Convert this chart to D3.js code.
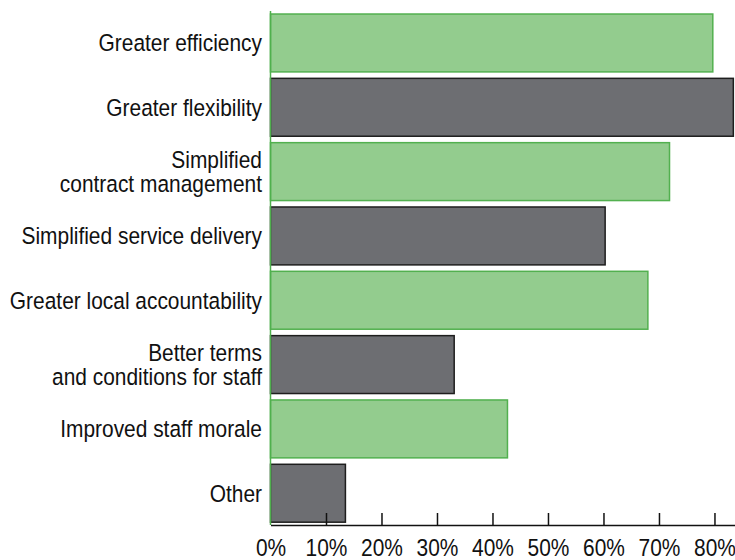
<!DOCTYPE html>
<html>
<head>
<meta charset="utf-8">
<script src="https://cdn.jsdelivr.net/npm/d3@7"></script>
<style>
  body { margin: 0; background: #fff; }
  svg text { font-family: "Liberation Sans", Arial, sans-serif; fill: #111; }
</style>
</head>
<body>
<div id="chart"></div>
<script>
// categories, top to bottom (multi-line labels split on "|")
var categories = [
    "Greater efficiency",
    "Greater flexibility",
    "Simplified|contract management",
    "Simplified service delivery",
    "Greater local accountability",
    "Better terms|and conditions for staff",
    "Improved staff morale",
    "Other"
];
// share of respondents
var values = [0.797, 0.834, 0.719, 0.603, 0.680, 0.331, 0.427, 0.135];
var tickValues = [0, 0.1, 0.2, 0.3, 0.4, 0.5, 0.6, 0.7, 0.8];

var width = 735, height = 560;
var axisY = 525;
var fontSize = "23.5px";
var narrow = "scale(0.89,1)";   // no condensed font installed, squeeze Liberation Sans

var svg = d3.select("#chart").append("svg")
    .attr("width", width)
    .attr("height", height);

var x = d3.scaleLinear()
    .domain([0, 0.837])
    .range([270.5, 735]);

var y = d3.scaleBand()
    .domain(categories)
    .range([10.8, 525.4])
    .paddingInner(0.1)
    .paddingOuter(0.05);

/* bars, alternating green / grey */
svg.selectAll(".bar")
    .data(categories)
    .enter().append("rect")
    .attr("class", "bar")
    .attr("x", x(0))
    .attr("y", function (d) { return y(d); })
    .attr("height", y.bandwidth())
    .attr("width", function (d, i) { return x(values[i]) - x(0); })
    .attr("fill", function (d, i) { return i % 2 === 0 ? "#93cc8e" : "#6d6e72"; })
    .attr("stroke", function (d, i) { return i % 2 === 0 ? "#52b04f" : "#1e1e1e"; })
    .attr("stroke-width", 1.5);

/* y axis line (green) */
svg.append("line")
    .attr("x1", x(0)).attr("x2", x(0))
    .attr("y1", 11).attr("y2", axisY)
    .attr("stroke", "#4fb04d")
    .attr("stroke-width", 1.5);

/* category labels */
var labels = svg.selectAll(".cat")
    .data(categories)
    .enter().append("g")
    .attr("class", "cat")
    .attr("transform", function (d) {
        return "translate(262," + (y(d) + y.bandwidth() / 2) + ") " + narrow;
    })
    .append("text")
    .attr("text-anchor", "end")
    .style("font-size", fontSize);

labels.each(function (d) {
    var lines = d.split("|");
    var lineH = 24;
    var t = d3.select(this);
    lines.forEach(function (ln, k) {
        t.append("tspan")
            .attr("x", 0)
            .attr("y", 8.5 + (k - (lines.length - 1) / 2) * lineH)
            .text(ln);
    });
});

/* x axis */
var xAxis = d3.axisBottom(x)
    .tickValues(tickValues)
    .tickSizeInner(-12)
    .tickSizeOuter(0)
    .tickFormat(d3.format(".0%"));

var gx = svg.append("g")
    .attr("transform", "translate(0," + axisY + ")")
    .call(xAxis);

gx.select(".domain")
    .attr("stroke", "#111")
    .attr("stroke-width", 1.5);
gx.selectAll(".tick line")
    .attr("stroke", "#111")
    .attr("stroke-width", 1.5)
    .filter(function (d) { return d === 0; }).remove();
gx.selectAll(".tick text")
    .attr("y", 31)
    .attr("dy", 0)
    .attr("transform", narrow)
    .style("font-size", fontSize)
    .style("font-family", "'Liberation Sans', Arial, sans-serif")
    .attr("fill", "#111");
</script>
</body>
</html>
